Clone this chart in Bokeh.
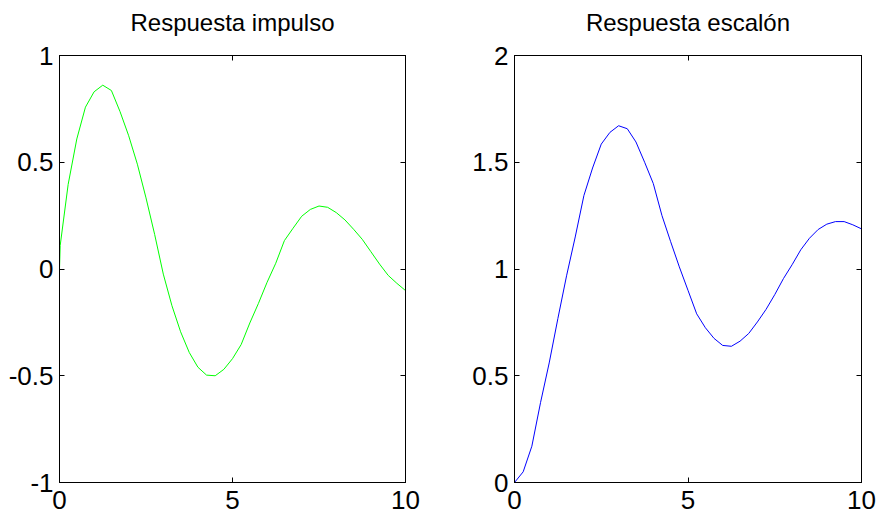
from bokeh.plotting import figure
from bokeh.layouts import row
from bokeh.models import Range1d, FixedTicker, LinearAxis
from bokeh.embed import file_html
from bokeh.resources import INLINE

# ---- data ----
t_imp = [0.0, 0.02, 0.25, 0.5, 0.75, 1.0, 1.25, 1.5, 1.75, 2.0, 2.25, 2.5, 2.75, 3.0,
         3.25, 3.5, 3.75, 4.0, 4.25, 4.5, 4.75, 5.0, 5.25, 5.5, 5.75, 6.0, 6.25, 6.5,
         6.75, 7.0, 7.25, 7.5, 7.75, 8.0, 8.25, 8.5, 8.75, 9.0, 9.25, 9.5, 9.75, 10.0]
y_imp = [0.0, 0.11, 0.396, 0.609, 0.758, 0.830, 0.861, 0.836, 0.737, 0.624, 0.491, 0.333,
         0.162, -0.024, -0.172, -0.294, -0.391, -0.460, -0.497, -0.500, -0.470, -0.420,
         -0.354, -0.253, -0.161, -0.062, 0.027, 0.133, 0.191, 0.247, 0.279, 0.295, 0.289,
         0.264, 0.230, 0.186, 0.139, 0.081, 0.023, -0.030, -0.067, -0.101]

t_step = [0.0, 0.25, 0.5, 0.75, 1.0, 1.25, 1.5, 1.75, 2.0, 2.25, 2.5, 2.75, 3.0, 3.25,
          3.5, 3.75, 4.0, 4.25, 4.5, 4.75, 5.0, 5.25, 5.5, 5.75, 6.0, 6.25, 6.5, 6.75,
          7.0, 7.25, 7.5, 7.75, 8.0, 8.25, 8.5, 8.75, 9.0, 9.25, 9.5, 9.75, 10.0]
y_step = [0.0, 0.05, 0.17, 0.374, 0.56, 0.768, 0.968, 1.15, 1.344, 1.473, 1.585, 1.64,
          1.671, 1.657, 1.595, 1.50, 1.40, 1.25, 1.128, 1.01, 0.90, 0.79, 0.725, 0.675,
          0.642, 0.638, 0.662, 0.698, 0.752, 0.811, 0.88, 0.955, 1.02, 1.09, 1.144,
          1.185, 1.21, 1.222, 1.222, 1.207, 1.188]

x_ticks = [0, 5, 10]
x_labels = ["0", "5", "10"]
y_ticks_imp = [-1, -0.5, 0, 0.5, 1]
y_labels_imp = ["-1", "-0.5", "0", "0.5", "1"]
y_ticks_step = [0, 0.5, 1, 1.5, 2]
y_labels_step = ["0", "0.5", "1", "1.5", "2"]

titles = ["Respuesta impulso", "Respuesta escalón"]

FONT = "Liberation Sans"
LBL = "26px"


def style_axis(ax, ticks, labels, show_labels, standoff=6):
    ax.ticker = FixedTicker(ticks=ticks)
    ax.major_tick_in = 5
    ax.major_tick_out = 0
    ax.minor_tick_in = 0
    ax.minor_tick_out = 0
    ax.axis_line_color = "black"
    ax.major_tick_line_color = "black"
    ax.major_label_text_font = FONT
    ax.major_label_text_color = "black"
    ax.major_label_text_font_size = LBL
    if show_labels:
        ax.major_label_overrides = {tk: lb for tk, lb in zip(ticks, labels)}
    else:
        ax.major_label_overrides = {tk: "" for tk in ticks}
    ax.major_label_standoff = standoff


def make(title, x, y, color, yr, yt, yl, bl, br, fw):
    p = figure(title=title, x_range=Range1d(x_ticks[0], x_ticks[-1]), y_range=Range1d(*yr),
               frame_width=fw, frame_height=427, output_backend="svg",
               toolbar_location=None, min_border_left=bl, min_border_right=br,
               min_border_top=55, min_border_bottom=38)
    p.line(x, y, line_color=color, line_width=1)
    p.grid.visible = False
    p.outline_line_color = "black"
    p.background_fill_color = "white"
    p.border_fill_color = "white"
    p.title.text_font = FONT
    p.title.text_font_size = "24px"
    p.title.text_font_style = "normal"
    p.title.text_color = "black"
    p.title.align = "center"
    p.title.standoff = 4
    style_axis(p.xaxis[0], x_ticks, x_labels, True, standoff=8)
    style_axis(p.yaxis[0], yt, yl, True, standoff=6)
    top = LinearAxis()
    right = LinearAxis()
    p.add_layout(top, "above")
    p.add_layout(right, "right")
    style_axis(top, x_ticks, x_labels, False, standoff=0)
    style_axis(right, yt, yl, False, standoff=0)
    # invisible spacer axis that lifts the title away from the frame
    spacer = LinearAxis()
    p.add_layout(spacer, "above")
    style_axis(spacer, x_ticks, x_labels, False, standoff=0)
    spacer.major_tick_in = 0
    spacer.major_tick_out = 18
    spacer.major_tick_line_color = None
    spacer.axis_line_color = None
    return p


p1 = make(titles[0], t_imp, y_imp, "#00ff00", (-1, 1), y_ticks_imp, y_labels_imp, 59, 55, 346)
p2 = make(titles[1], t_step, y_step, "#0000ff", (0, 2), y_ticks_step, y_labels_step, 54, 18, 347)

layout = row(p1, p2)
open("out.html", "w").write(file_html(layout, INLINE))
